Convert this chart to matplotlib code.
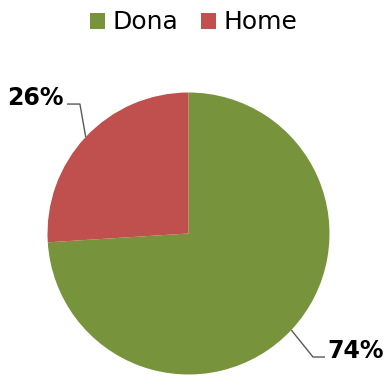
import numpy as np
import matplotlib
matplotlib.use('Agg')
import matplotlib.pyplot as plt
from matplotlib.patches import Patch

# share of each group
labels = ['Dona', 'Home']
shares = [74, 26]
colors = ['#77933C', '#C0504D']

W, H = 387, 376
R = 141.0          # pie radius in pixels
cx, cy = 188.5, 233.5  # pie centre, pixels from top-left

fig = plt.figure(figsize=(W / 100, H / 100), dpi=100)
ax = fig.add_axes([0, 0, 1, 1])
ax.axis('off')

wedges, _ = ax.pie(shares, colors=colors, startangle=90, counterclock=False,
                   radius=1, wedgeprops=dict(linewidth=0))
ax.set_xlim(-cx / R, (W - cx) / R)
ax.set_ylim(-(H - cy) / R, cy / R)

# data labels with elbow leader lines
label_pos = {
    'Dona': dict(elbow=(0.883, -0.876), end=0.968, text=(0.982, -0.885), ha='left'),
    'Home': dict(elbow=(-0.770, 0.918), end=-0.862, text=(-0.885, 0.912), ha='right'),
}
for w, name, val in zip(wedges, labels, shares):
    mid = np.deg2rad((w.theta1 + w.theta2) / 2)
    ax_, ay_ = np.cos(mid), np.sin(mid)
    p = label_pos[name]
    ex, ey = p['elbow']
    ax.plot([ax_, ex, p['end']], [ay_, ey, ey], color='#595959', lw=1,
            solid_capstyle='butt')
    ax.text(p['text'][0], p['text'][1], f'{val}%', ha=p['ha'], va='baseline',
            fontsize=17, fontweight='bold', color='black')

handles = [Patch(facecolor=c, edgecolor='none') for c in colors]
fig.legend(handles, labels, loc='upper center', bbox_to_anchor=(0.5, 1.032),
           ncol=2, frameon=False, fontsize=18, handlelength=0.6,
           handleheight=0.6, handletextpad=0.3, columnspacing=0.9)

fig.savefig('out.png', dpi=100)
